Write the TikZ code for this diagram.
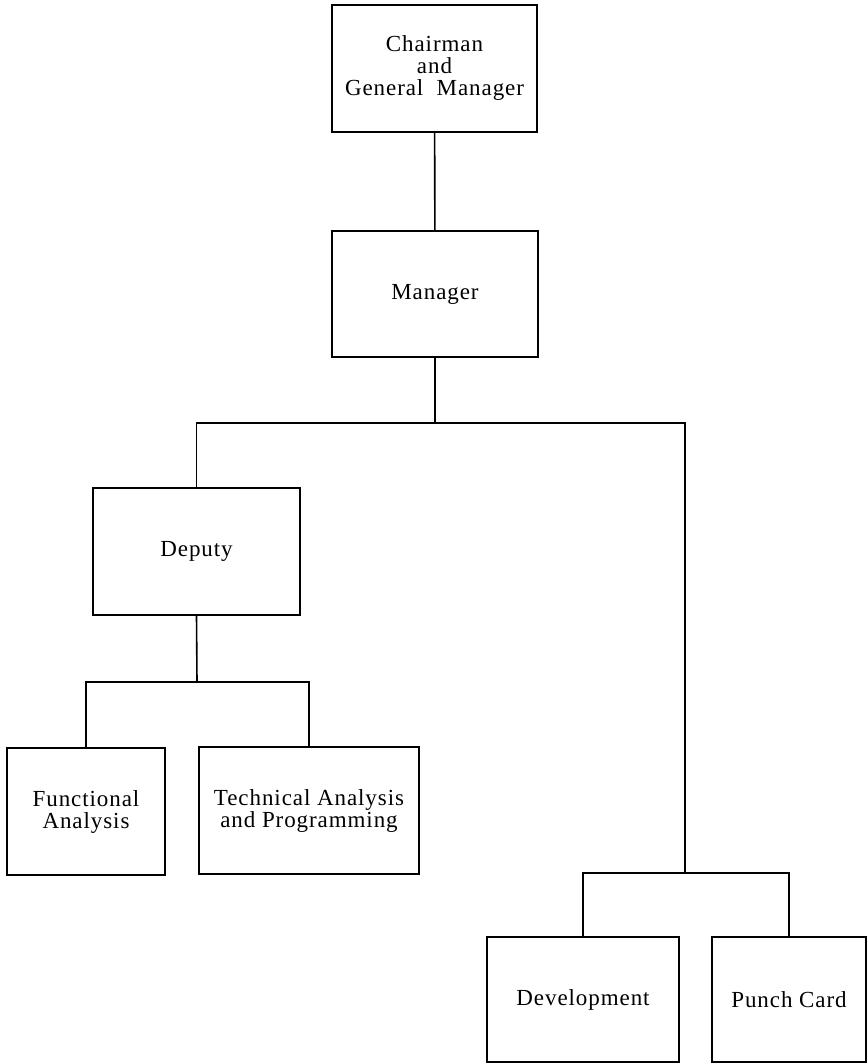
\documentclass[tikz,border=0pt]{standalone}
\usepackage{fontspec}
\setmainfont{Liberation Serif}[LetterSpace=4]
\begin{document}
\begin{tikzpicture}[x=1pt,y=-1pt,
  unit/.style={draw,line width=1.6pt,align=center,inner sep=0pt,
    font=\fontsize{23}{22}\selectfont},
  link/.style={line width=1.6pt}]
\useasboundingbox (0,0) rectangle (867,1064);

% boxes
\node[unit,minimum width=205,minimum height=127] (chair) at (434.5,68.5) {Chairman\\and\\General~~Manager};
\node[unit,minimum width=206,minimum height=126] (mgr) at (435,294) {Manager};
\node[unit,minimum width=207,minimum height=127] (dep) at (196.5,551.5) {Deputy};
\node[unit,minimum width=158,minimum height=127] (fa) at (86,811.5) {Functional\\Analysis};
\node[unit,minimum width=220,minimum height=127] (ta) at (309,810.5) {Technical Analysis\\and Programming};
\node[unit,minimum width=192,minimum height=125] (dev) at (583,999.5) {Development};
\node[unit,minimum width=154,minimum height=125] (pc) at (789,999.5) {Punch Card};

% junction points
\coordinate (b1) at (435,423);
\coordinate (b2) at (685,873);
\coordinate (b3) at (197,682);

% connectors
\draw[link] (chair) -- (mgr);
\draw[link] (mgr.south) -- (b1);
\draw[link] (dep.north) |- (b1) -| (b2);
\draw[link] (dev.north) |- (b2) -| (pc.north);
\draw[link] (dep.south) -- (b3);
\draw[link] (fa.north) |- (b3) -| (ta.north);
\end{tikzpicture}
\end{document}
